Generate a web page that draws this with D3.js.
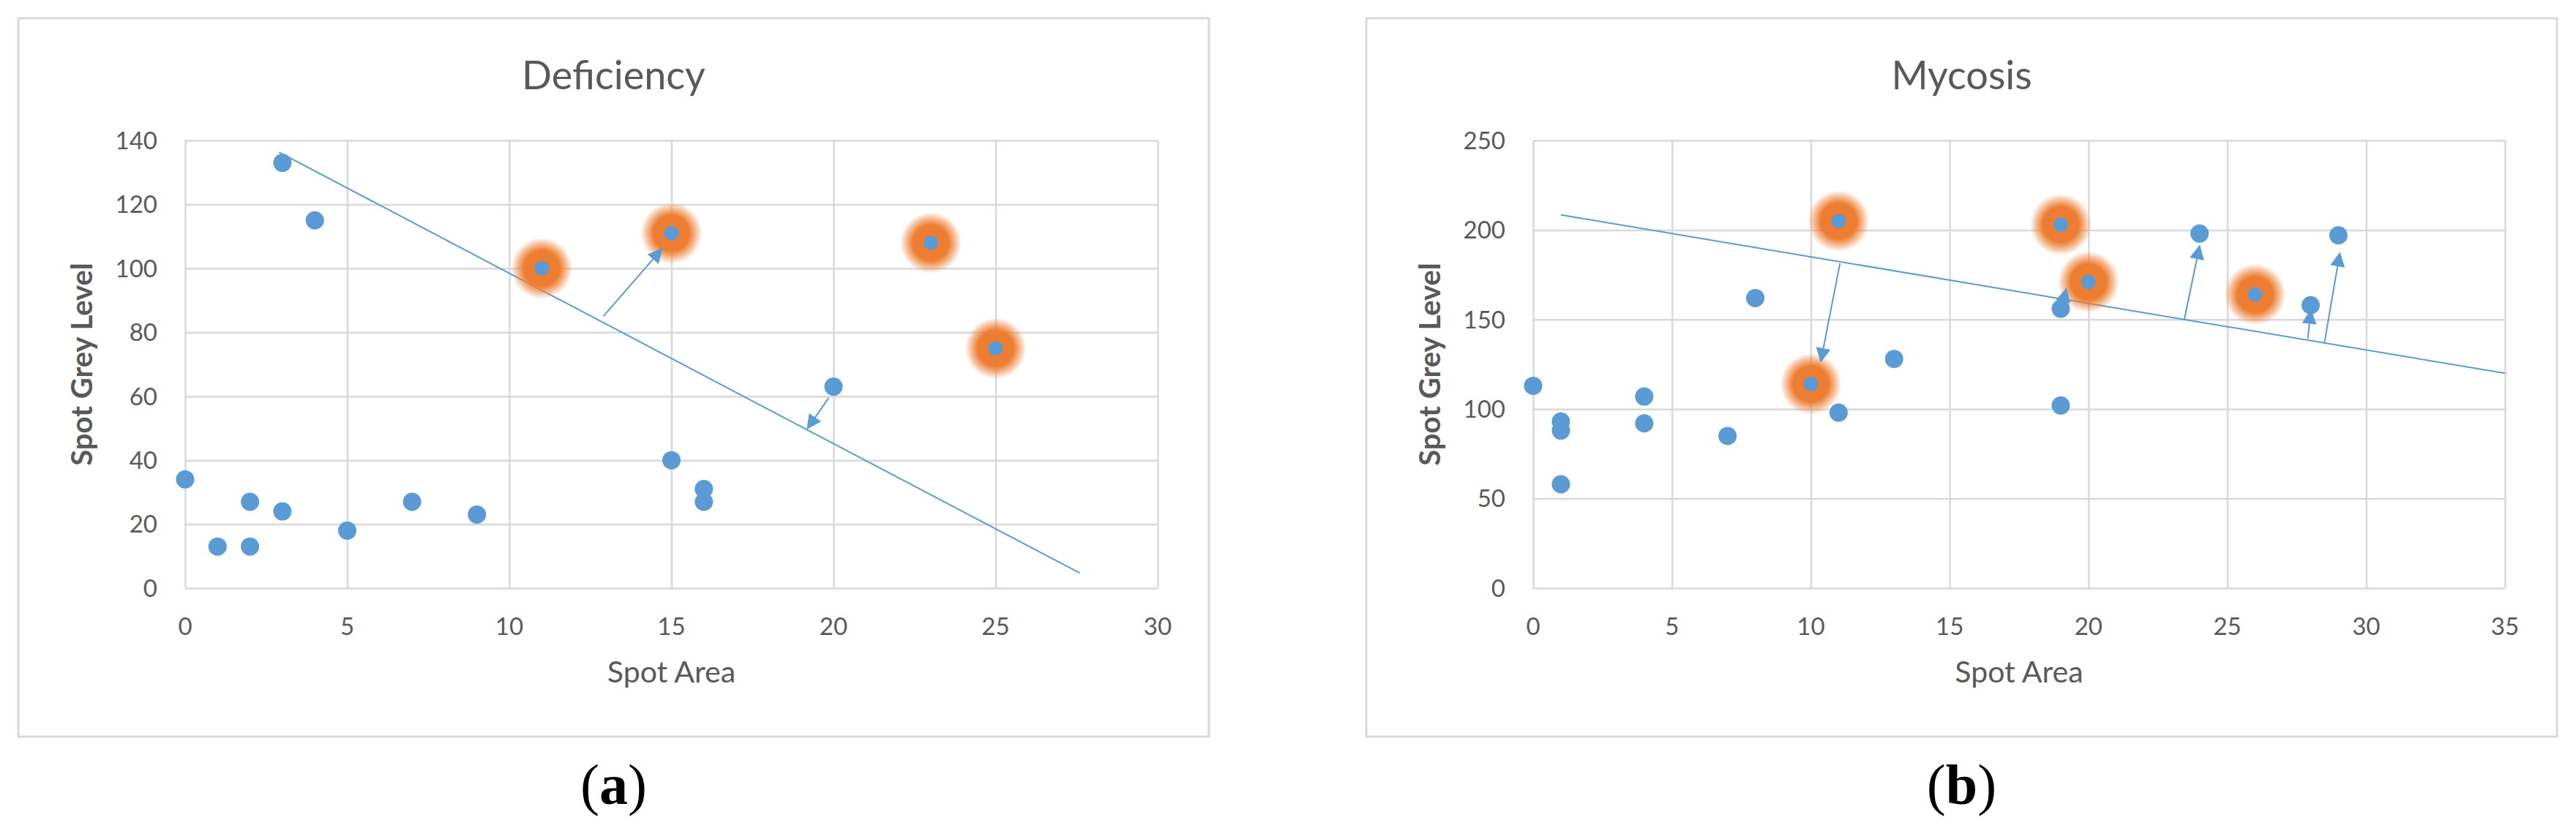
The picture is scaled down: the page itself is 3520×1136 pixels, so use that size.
<!DOCTYPE html>
<html>
<head>
<meta charset="utf-8">
<script src="https://cdn.jsdelivr.net/npm/d3@7"></script>
<style>
  body { margin: 0; background: #fff; }
  svg { display: block; }
</style>
</head>
<body>
<svg id="chart"></svg>
<script>
var width = 3520;
var height = 1136;

// Deficiency (a)
var defX = [0, 1, 2, 2, 3, 3, 4, 5, 7, 9, 11, 15, 15, 16, 16, 20, 23, 25];
var defY = [34, 13, 13, 27, 24, 133, 115, 18, 27, 23, 100, 111, 40, 31, 27, 63, 108, 75];
var defHiX = [11, 15, 23, 25];
var defHiY = [100, 111, 108, 75];
var defTrend = [[2.9, 136.3], [27.6, 4.7]];
var defArrows = [
  [[12.9, 85], [14.7, 106]],
  [[19.85, 59.5], [19.2, 50]]
];
var defXTicks = [0, 5, 10, 15, 20, 25, 30];
var defYTicks = [0, 20, 40, 60, 80, 100, 120, 140];

// Mycosis (b)
var mycX = [0, 1, 1, 1, 4, 4, 7, 8, 10, 11, 11, 13, 19, 19, 19, 20, 24, 26, 28, 29];
var mycY = [113, 93, 88, 58, 107, 92, 85, 162, 114, 205, 98, 128, 203, 156, 102, 171, 198, 164, 158, 197];
var mycHiX = [11, 19, 20, 10, 26];
var mycHiY = [205, 203, 171, 114, 164];
var mycTrend = [[1, 208.4], [35, 120]];
var mycArrows = [
  [[11.05, 181.4], [10.36, 126.7]],
  [[23.45, 150], [24, 191]],
  [[27.9, 139.3], [28, 155]],
  [[28.5, 137.3], [29.05, 187]],
  [[19.05, 158], [19.2, 167]]
];
var mycXTicks = [0, 5, 10, 15, 20, 25, 30, 35];
var mycYTicks = [0, 50, 100, 150, 200, 250];

var blue = "#5b9bd5";
var orange = "#ed7d31";
var grid = "#d9d9d9";
var txt = "#595959";
var font = "Lato, 'Open Sans', sans-serif";

var svg = d3.select("#chart")
              .attr("width", width)
              .attr("height", height);

var defs = svg.append("defs");

var glow = defs.append("radialGradient").attr("id", "glow");
glow.append("stop").attr("offset", "0%").attr("stop-color", orange).attr("stop-opacity", 1);
glow.append("stop").attr("offset", "58%").attr("stop-color", orange).attr("stop-opacity", 1);
glow.append("stop").attr("offset", "80%").attr("stop-color", orange).attr("stop-opacity", 0.5);
glow.append("stop").attr("offset", "100%").attr("stop-color", orange).attr("stop-opacity", 0);

defs.append("marker")
    .attr("id", "head")
    .attr("markerUnits", "userSpaceOnUse")
    .attr("viewBox", "0 0 10 10")
    .attr("refX", 9).attr("refY", 5)
    .attr("markerWidth", 24).attr("markerHeight", 20)
    .attr("orient", "auto")
  .append("path")
    .attr("d", "M0,0 L10,5 L0,10 Z")
    .attr("fill", blue);

function drawPanel(cfg) {
  var g = svg.append("g");

  // outer frame
  g.append("rect")
    .attr("x", cfg.box[0]).attr("y", cfg.box[1])
    .attr("width", cfg.box[2] - cfg.box[0])
    .attr("height", cfg.box[3] - cfg.box[1])
    .attr("fill", "#fff")
    .attr("stroke", grid)
    .attr("stroke-width", 3);

  var x = d3.scaleLinear().domain(cfg.xDomain).range([cfg.plot[0], cfg.plot[1]]);
  var y = d3.scaleLinear().domain(cfg.yDomain).range([cfg.plot[3], cfg.plot[2]]);

  // gridlines
  g.append("g")
    .attr("transform", "translate(0," + cfg.plot[3] + ")")
    .call(d3.axisBottom(x).tickValues(cfg.xTicks)
            .tickSize(-(cfg.plot[3] - cfg.plot[2])).tickFormat(""))
    .call(a => a.select(".domain").remove())
    .call(a => a.selectAll("line").attr("stroke", grid).attr("stroke-width", 2.5));

  g.append("g")
    .attr("transform", "translate(" + cfg.plot[0] + ",0)")
    .call(d3.axisLeft(y).tickValues(cfg.yTicks)
            .tickSize(-(cfg.plot[1] - cfg.plot[0])).tickFormat(""))
    .call(a => a.select(".domain").remove())
    .call(a => a.selectAll("line").attr("stroke", grid).attr("stroke-width", 2.5));

  // tick labels
  g.selectAll(".xt")
    .data(cfg.xTicks)
    .enter()
    .append("text")
      .attr("x", d => x(d))
      .attr("y", cfg.plot[3] + 64)
      .attr("text-anchor", "middle")
      .attr("font-family", font)
      .attr("font-size", 33)
      .attr("fill", txt)
      .text(d => d);

  g.selectAll(".yt")
    .data(cfg.yTicks)
    .enter()
    .append("text")
      .attr("x", cfg.plot[0] - 38)
      .attr("y", d => y(d))
      .attr("dy", "0.36em")
      .attr("text-anchor", "end")
      .attr("font-family", font)
      .attr("font-size", 33)
      .attr("fill", txt)
      .text(d => d);

  // titles
  g.append("text")
    .attr("x", (cfg.box[0] + cfg.box[2]) / 2)
    .attr("y", 122)
    .attr("text-anchor", "middle")
    .attr("font-family", font)
    .attr("font-size", 54)
    .attr("fill", txt)
    .text(cfg.title);

  g.append("text")
    .attr("x", (cfg.plot[0] + cfg.plot[1]) / 2)
    .attr("y", cfg.plot[3] + 129)
    .attr("text-anchor", "middle")
    .attr("font-family", font)
    .attr("font-size", 41)
    .attr("fill", txt)
    .text("Spot Area");

  g.append("text")
    .attr("transform", "translate(" + (cfg.plot[0] - 141) + "," + ((cfg.plot[2] + cfg.plot[3]) / 2) + ") rotate(-90)")
    .attr("dy", "0.36em")
    .attr("text-anchor", "middle")
    .attr("font-family", font)
    .attr("font-size", 40)
    .attr("font-weight", "bold")
    .attr("fill", txt)
    .text("Spot Grey Level");

  // trend line
  g.append("line")
    .attr("x1", x(cfg.trend[0][0])).attr("y1", y(cfg.trend[0][1]))
    .attr("x2", x(cfg.trend[1][0])).attr("y2", y(cfg.trend[1][1]))
    .attr("stroke", blue)
    .attr("stroke-width", 2);

  // glow behind highlighted spots
  g.selectAll(".glow")
    .data(cfg.hiX.map((v, i) => [v, cfg.hiY[i]]))
    .enter()
    .append("circle")
      .attr("cx", d => x(d[0]))
      .attr("cy", d => y(d[1]))
      .attr("r", 42)
      .attr("fill", "url(#glow)");

  // arrows
  g.selectAll(".arrow")
    .data(cfg.arrows)
    .enter()
    .append("line")
      .attr("x1", d => x(d[0][0])).attr("y1", d => y(d[0][1]))
      .attr("x2", d => x(d[1][0])).attr("y2", d => y(d[1][1]))
      .attr("stroke", blue)
      .attr("stroke-width", 2)
      .attr("marker-end", "url(#head)");

  // points
  g.selectAll(".pt")
    .data(cfg.xs.map((v, i) => [v, cfg.ys[i]]))
    .enter()
    .append("circle")
      .attr("cx", d => x(d[0]))
      .attr("cy", d => y(d[1]))
      .attr("r", d => cfg.hiX.some((h, i) => h === d[0] && cfg.hiY[i] === d[1]) ? 10 : 12.5)
      .attr("fill", blue);

  // panel caption
  var cap = svg.append("text")
    .attr("x", (cfg.box[0] + cfg.box[2]) / 2)
    .attr("y", 1099)
    .attr("text-anchor", "middle")
    .attr("font-family", "'Liberation Serif', 'DejaVu Serif', serif")
    .attr("font-size", 78)
    .attr("fill", "#000");
  cap.append("tspan").text("(");
  cap.append("tspan").attr("font-weight", "bold").text(cfg.caption);
  cap.append("tspan").text(")");
}

drawPanel({
  box: [25, 25, 1652, 1007],
  plot: [253, 1582, 192, 804],
  xDomain: [0, 30], yDomain: [0, 140],
  xTicks: defXTicks, yTicks: defYTicks,
  xs: defX, ys: defY, hiX: defHiX, hiY: defHiY,
  trend: defTrend, arrows: defArrows,
  title: "Deficiency", caption: "a"
});

drawPanel({
  box: [1867, 25, 3494, 1007],
  plot: [2095, 3423, 192, 804],
  xDomain: [0, 35], yDomain: [0, 250],
  xTicks: mycXTicks, yTicks: mycYTicks,
  xs: mycX, ys: mycY, hiX: mycHiX, hiY: mycHiY,
  trend: mycTrend, arrows: mycArrows,
  title: "Mycosis", caption: "b"
});
</script>
</body>
</html>
